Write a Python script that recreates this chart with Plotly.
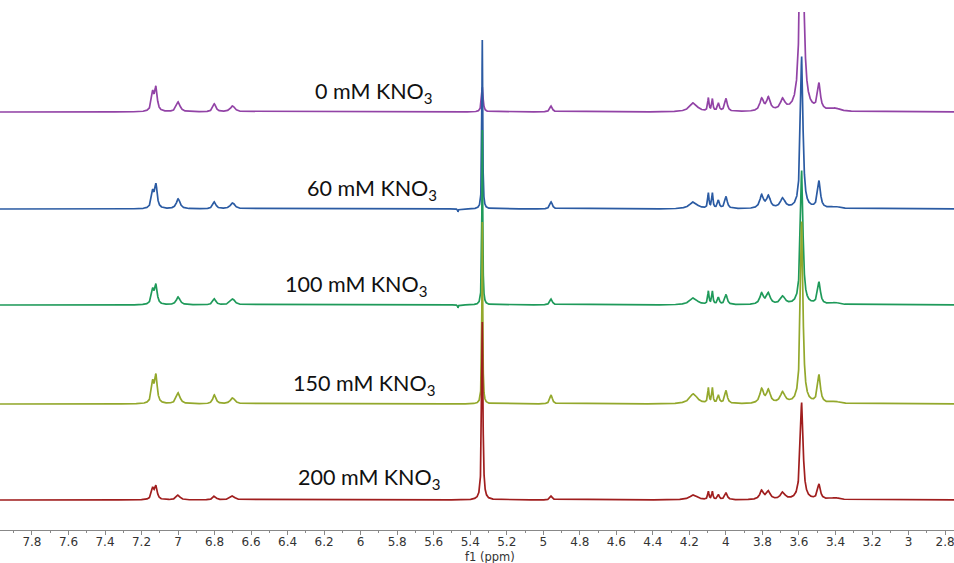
import numpy as np
import plotly.graph_objects as go

# Stacked 1H NMR spectra at increasing KNO3 concentration
labels = ["0 mM KNO<sub>3</sub>", "60 mM KNO<sub>3</sub>", "100 mM KNO<sub>3</sub>",
          "150 mM KNO<sub>3</sub>", "200 mM KNO<sub>3</sub>"]
colors = ["#9243A6", "#2B5BA3", "#1F9A5A", "#93A82C", "#A01E1E"]

# Peak centres (ppm) and Lorentzian half-widths (ppm)
peak_ppm = [7.139, 7.121, 6.999, 6.801, 6.701, 5.334, 5.467, 4.957, 4.178, 4.096,
            4.074, 4.041, 3.999, 3.804, 3.767, 3.689, 3.585, 3.490, 3.402]
peak_width = [0.008, 0.008, 0.012, 0.010, 0.015, 0.0025, 0.002, 0.008, 0.025, 0.004,
              0.004, 0.006, 0.008, 0.012, 0.012, 0.015, 0.008, 0.009, 0.03]

# Peak intensities for each spectrum (same order as peak_ppm)
h_0mM = [18, 23, 10, 8, 6, 25, 0, 6, 9, 13, 12, 8, 13, 12, 13, 11, 310, 26, 3]
h_60mM = [16, 23, 10, 7, 6, 169, -3, 7, 7, 15, 15, 8, 12, 13, 12, 10, 152, 27, 2]
h_100mM = [14, 19, 8, 6, 6, 175, -3, 6, 7, 13, 13, 7, 10, 11, 11, 8, 134, 22, 2]
h_150mM = [20, 27, 11, 9, 6, 182, 0, 9, 10, 15, 15, 8, 13, 14, 13, 11, 182, 28, 2]
h_200mM = [11, 13, 5, 4, 4, 178, 0, 4, 5, 8, 8, 5, 7, 9, 8, 7, 97, 15, 2]
heights = [h_0mM, h_60mM, h_100mM, h_150mM, h_200mM]

# Width of the two strongest lines per spectrum (5.33 and 3.59 ppm)
w_533 = [0.005, 0.0025, 0.0025, 0.0025, 0.004]
w_359 = [0.0095, 0.008, 0.008, 0.008, 0.009]

# Vertical stacking offsets (intensity units)
offsets = [418, 321, 225, 126, 30]

tick_vals = [7.8, 7.6, 7.4, 7.2, 7.0, 6.8, 6.6, 6.4, 6.2, 6.0, 5.8, 5.6, 5.4, 5.2,
             5.0, 4.8, 4.6, 4.4, 4.2, 4.0, 3.8, 3.6, 3.4, 3.2, 3.0, 2.8]
tick_text = ["7.8", "7.6", "7.4", "7.2", "7", "6.8", "6.6", "6.4", "6.2", "6", "5.8",
             "5.6", "5.4", "5.2", "5", "4.8", "4.6", "4.4", "4.2", "4", "3.8", "3.6",
             "3.4", "3.2", "3", "2.8"]

ppm = np.arange(2.70, 8.0, 0.0004)


def spectrum(hs, i):
    y = np.zeros_like(ppm)
    for c, w, h in zip(peak_ppm, peak_width, hs):
        if c == 5.334:
            w = w_533[i]
        elif c == 3.585:
            w = w_359[i]
        y += h / (1.0 + ((ppm - c) / w) ** 2)
    return y


fig = go.Figure()
for i, (hs, col) in enumerate(zip(heights, colors)):
    fig.add_trace(go.Scatter(x=ppm, y=spectrum(hs, i) + offsets[i], mode="lines",
                             line=dict(color=col, width=1.7), showlegend=False,
                             hoverinfo="skip"))

# Spectrum labels: left edge (ppm) and vertical centre (intensity units)
label_x = [6.261, 6.305, 6.425, 6.380, 6.355]
label_y = [438, 341, 245, 146, 52]
for t, lx, ly in zip(labels, label_x, label_y):
    fig.add_annotation(x=lx, y=ly, text=t, showarrow=False, xanchor="left",
                       yanchor="middle", font=dict(family="Lato", size=21.5, color="#111"))

fig.add_annotation(x=5.29, y=-0.0675, xref="x", yref="paper", text="f1 (ppm)",
                   showarrow=False, yanchor="bottom", borderpad=0,
                   font=dict(family="DejaVu Sans", size=11.5, color="#333"))

fig.update_layout(
    width=954, height=563,
    margin=dict(l=0, r=0, t=12, b=33),
    plot_bgcolor="white", paper_bgcolor="white",
    xaxis=dict(range=[7.975, 2.751], showgrid=False, zeroline=False,
               showline=True, linecolor="#888", linewidth=1,
               tickmode="array", tickvals=tick_vals, ticktext=tick_text,
               ticks="outside", ticklen=4, tickcolor="#888",
               ticklabeloverflow="allow", ticklabelstandoff=-3,
               tickfont=dict(family="DejaVu Sans", size=12, color="#333"),
               minor=dict(dtick=0.1, ticks="outside", ticklen=2, tickcolor="#888")),
    yaxis=dict(range=[0, 518], visible=False),
)

fig.write_html("out.html")
